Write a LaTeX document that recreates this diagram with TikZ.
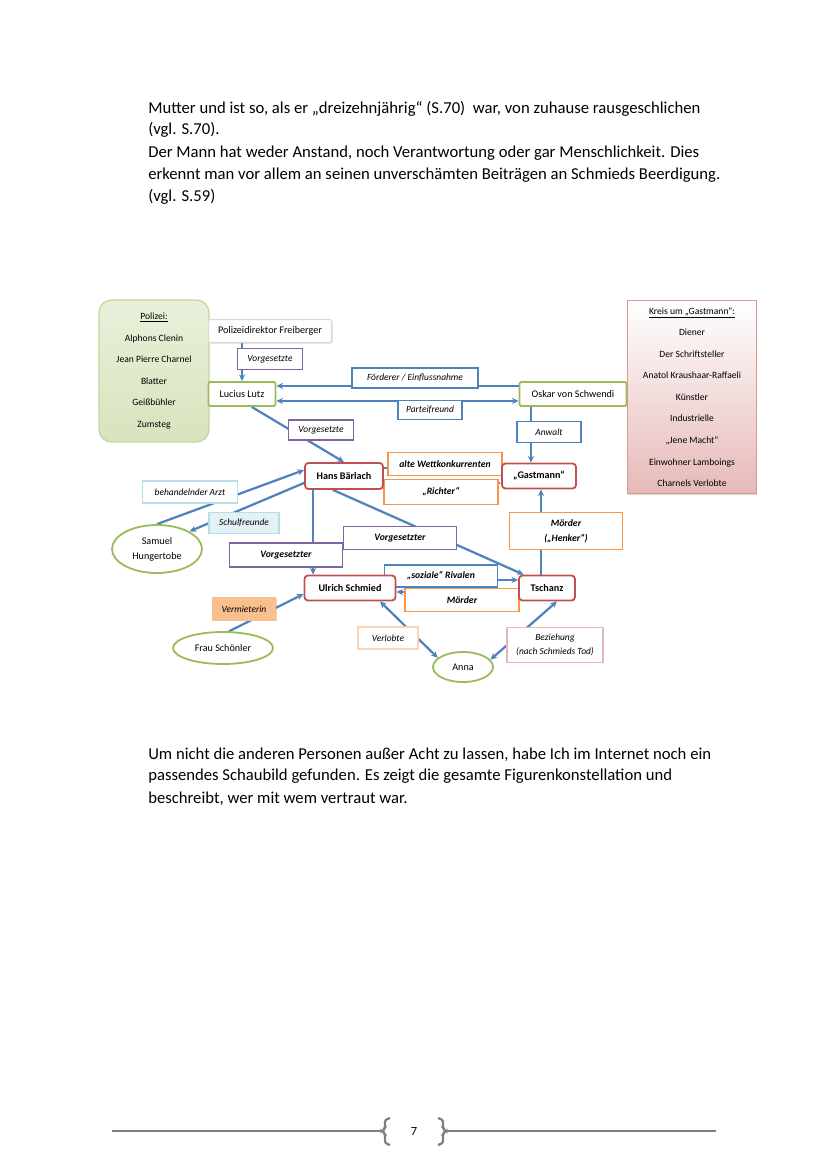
\documentclass[tikz,border=0pt]{standalone}
\usepackage{fontspec}
\setmainfont{Carlito}
\usetikzlibrary{arrows.meta,shapes.geometric,shadows,backgrounds}
\definecolor{offblue}{HTML}{4F81BD}
\definecolor{offred}{HTML}{C0504D}
\definecolor{offgreen}{HTML}{9BBB59}
\definecolor{offpurple}{HTML}{8064A2}
\definecolor{offorange}{HTML}{F79646}
\definecolor{lightaqua}{HTML}{B7DEE8}
\definecolor{paleaqua}{HTML}{E4F2F6}
\definecolor{peach}{HTML}{FABF8F}
\definecolor{palepeach}{HTML}{FBD4B4}
\definecolor{palerose}{HTML}{E6B9B8}
\definecolor{rose}{HTML}{D99694}
\definecolor{palegreen}{HTML}{D7E4BD}
\definecolor{midgreen}{HTML}{C3D69B}
\definecolor{footgray}{HTML}{7F7F7F}
\tikzstyle{rel edge} = [draw=offblue, line width=1.6pt]
\tikzstyle{text line} = [anchor=west, inner sep=0pt, font=\fontsize{12}{14}\selectfont]

\begin{document}
\begin{tikzpicture}
[x=0.72pt, y=-0.72pt, >={Stealth[length=4.8pt,width=4.4pt]},
person/.style={draw=offred, line width=1.3pt, rounded corners=2.5pt, fill=white, inner sep=0pt, font=\fontsize{7.3}{9}\selectfont\bfseries},
side/.style={draw=offgreen, line width=1.3pt, rounded corners=1pt, fill=white, inner sep=0pt, font=\fontsize{7.3}{9}\selectfont},
minor/.style={ellipse, draw=offgreen, line width=1.3pt, fill=white, inner sep=0pt, align=center, font=\fontsize{7.3}{11}\selectfont},
shadowed/.style={drop shadow={shadow xshift=0.7pt, shadow yshift=-0.7pt, opacity=0.3}},
rel/.style={line width=1.2pt, fill=white, inner sep=0pt, align=center, font=\fontsize{6.8}{10}\selectfont\itshape},
strongrel/.style={rel, font=\fontsize{7}{10.8}\selectfont\bfseries\itshape},
listbox/.style={inner sep=0pt, align=center, font=\fontsize{6.9}{15.5}\selectfont}]

\useasboundingbox (0,0) rectangle (828,1171);

%% running text
\foreach \nodename/\y/\txt in {
topa/109/{Mutter und ist so, als er „dreizehnjährig“ (S.70)~ war, von zuhause rausgeschlichen},
topb/130/{(vgl. S.70).},
topc/153/{Der Mann hat weder Anstand, noch Verantwortung oder gar Menschlichkeit. Dies},
topd/175/{erkennt man vor allem an seinen unverschämten Beiträgen an Schmieds Beerdigung.},
tope/197/{(vgl. S.59)},
bota/755/{Um nicht die anderen Personen außer Acht zu lassen, habe Ich im Internet noch ein},
botb/776/{passendes Schaubild gefunden. Es zeigt die gesamte Figurenkonstellation und},
botc/799/{beschreibt, wer mit wem vertraut war.}}
{
\node[text line] (\nodename) at (148,\y) {\txt};
}

%% groups
\node[listbox, minimum width=79.2pt, minimum height=102.2pt, draw=midgreen, line width=0.9pt, rounded corners=9pt,
  top color=palegreen!55, bottom color=palegreen] (polizei) at (154,371)
  {\underline{Polizei:}\\Alphons Clenin\\Jean Pierre Charnel\\Blatter\\Geißbühler\\Zumsteg};
\node[listbox, minimum width=92.9pt, minimum height=139pt, draw=rose, line width=0.8pt, shadowed,
  top color=white, bottom color=palerose] (kreis) at (692,397)
  {\underline{Kreis um „Gastmann“:}\\Diener\\Der Schriftsteller\\Anatol Kraushaar-Raffaeli\\Künstler\\Industrielle\\„Jene Macht“\\Einwohner Lamboings\\Charnels Verlobte};

%% relation labels
\foreach \nodename/\col/\x/\y/\w/\h/\txt in {
vorgfrei/offpurple/270/359/65/21/Vorgesetzte,
vorglutz/offpurple/321/430/65/20/Vorgesetzte,
foerderer/offblue/415/378/126/20/{Förderer / Einflussnahme},
partei/offblue/430/410/64/19/Parteifreund,
anwalt/offblue/549/432/64/21/Anwalt}
{
\node[rel, draw=\col, minimum width=\w*0.72pt, minimum height=\h*0.72pt] (\nodename) at (\x,\y) {\txt};
}
\foreach \nodename/\col/\x/\y/\w/\h/\txt in {
arzt/lightaqua/190/492/95/22/{behandelnder Arzt},
verlobte/palepeach/388/638/60/22/Verlobte,
beziehung/palerose/555/645/96/35/{Beziehung\\(nach Schmieds Tod)}}
{
\node[rel, draw=\col, line width=0.8pt, shadowed, minimum width=\w*0.72pt, minimum height=\h*0.72pt] (\nodename) at (\x,\y) {\txt};
}
\node[rel, draw=lightaqua, line width=0.8pt, fill=paleaqua, shadowed, minimum width=50.4pt, minimum height=15.1pt] (schul) at (244,523) {Schulfreunde};
\node[rel, draw=peach, fill=peach, shadowed, minimum width=45.4pt, minimum height=15.8pt] (vermieterin) at (244,609) {Vermieterin};

\foreach \nodename/\col/\x/\y/\w/\h/\txt in {
alte/offorange/445/464/114/23/{alte Wettkonkurrenten},
richter/offorange/441/492/114/25/{„Richter“},
vorgleft/offpurple/286/555/113/24/Vorgesetzter,
vorgup/offpurple/400/538/113/23/Vorgesetzter,
rivalen/offblue/441/576/113/22/{„soziale“ Rivalen},
moerder/offorange/462/600/114/23/Mörder,
henker/offorange/566/531/113/37/{Mörder\\(„Henker“)}}
{
\node[strongrel, draw=\col, minimum width=\w*0.72pt, minimum height=\h*0.72pt] (\nodename) at (\x,\y) {\txt};
}

%% persons
\foreach \nodename/\x/\y/\w/\h/\txt in {
hans/344/476/78/26/{Hans Bärlach},
gastmann/539/476/74/25/{„Gastmann“},
ulrich/350/588/91/25/{Ulrich Schmied},
tschanz/547/588/56/25/{Tschanz}}
{
\node[person, minimum width=\w*0.72pt, minimum height=\h*0.72pt] (\nodename) at (\x,\y) {\txt};
}
\node[side, minimum width=48.2pt, minimum height=17.3pt] (lutz) at (242,394) {Lucius Lutz};
\node[side, minimum width=77pt, minimum height=17.3pt] (oskar) at (573,394) {Oskar von Schwendi};
\node[side, draw=black!15, line width=0.8pt, shadowed, minimum width=88.6pt, minimum height=16.6pt] (freiberger) at (270,331) {Polizeidirektor Freiberger};
\foreach \nodename/\x/\y/\w/\h/\txt in {
samuel/157/549/90/48/{Samuel\\Hungertobe},
schoenler/223/648/100/32/{Frau Schönler},
anna/463/667/60/30/{Anna}}
{
\node[minor, minimum width=\w*0.72pt, minimum height=\h*0.72pt] (\nodename) at (\x,\y) {\txt};
}

%% edges or lines
\begin{pgfonlayer}{background}
\fill[white] (0,0) rectangle (828,1171);
\draw[rel edge,->] (freiberger.south -| lutz.north) -- (lutz.north);
\draw[rel edge,->] ([yshift=5.8pt]oskar.west) -- ([yshift=5.8pt]lutz.east);
\draw[rel edge,<->] ([yshift=-5pt]lutz.east) -- ([yshift=-5pt]oskar.west);
\draw[rel edge,->] ([xshift=7pt]lutz.south) -- (hans.north);
\draw[rel edge,->] ([xshift=-5.8pt]gastmann.north |- oskar.south) -- ([xshift=-5.8pt]gastmann.north);
\draw[rel edge] ([yshift=5.8pt]hans.east) -- ([yshift=5.8pt]gastmann.west);
\draw[rel edge,->] ([yshift=-5pt]hans.east) -- ([yshift=-5pt]gastmann.west);
\draw[rel edge,->] (samuel.north) -- ([yshift=4.3pt]hans.west);
\draw[rel edge,->] ([yshift=-5pt]hans.west) -- (samuel.north east);
\draw[rel edge,->] ([xshift=-22.3pt]hans.south) -- ([xshift=-22.3pt]hans.south |- ulrich.north);
\draw[rel edge,->] ([xshift=-8pt]hans.south) -- ([xshift=4pt]tschanz.north west);
\draw[rel edge,->] ([yshift=5.8pt]ulrich.east) -- ([yshift=5.8pt]tschanz.west);
\draw[rel edge,->] ([yshift=-2.9pt]tschanz.west) -- ([yshift=-2.9pt]ulrich.east);
\draw[rel edge,->] ([xshift=-4.3pt]tschanz.north) -- ([xshift=-4.3pt]tschanz.north |- gastmann.south);
\draw[rel edge,->] (schoenler.70) -- ([yshift=-4.3pt]ulrich.west);
\draw[rel edge,<->] ([xshift=21.6pt]ulrich.south) -- (anna.160);
\draw[rel edge,<->] ([xshift=7.2pt]tschanz.south) -- (anna.15);
\end{pgfonlayer}

%% footer
\node[inner sep=0pt, font=\fontsize{9}{10}\selectfont] (pagenum) at (414,1131) {7};
\draw[footgray, line width=0.8pt] (112,1131) -- (383,1131);
\draw[footgray, line width=0.8pt] (446,1131) -- (716,1131);
\draw[footgray, line width=1.6pt, rounded corners=1.5pt] (390,1118) -- (385,1120) -- (385,1129) -- (382,1131) -- (385,1133) -- (385,1143) -- (390,1145);
\draw[footgray, line width=1.6pt, rounded corners=1.5pt] (438,1118) -- (443,1120) -- (443,1129) -- (446,1131) -- (443,1133) -- (443,1143) -- (438,1145);

\end{tikzpicture}
\end{document}
